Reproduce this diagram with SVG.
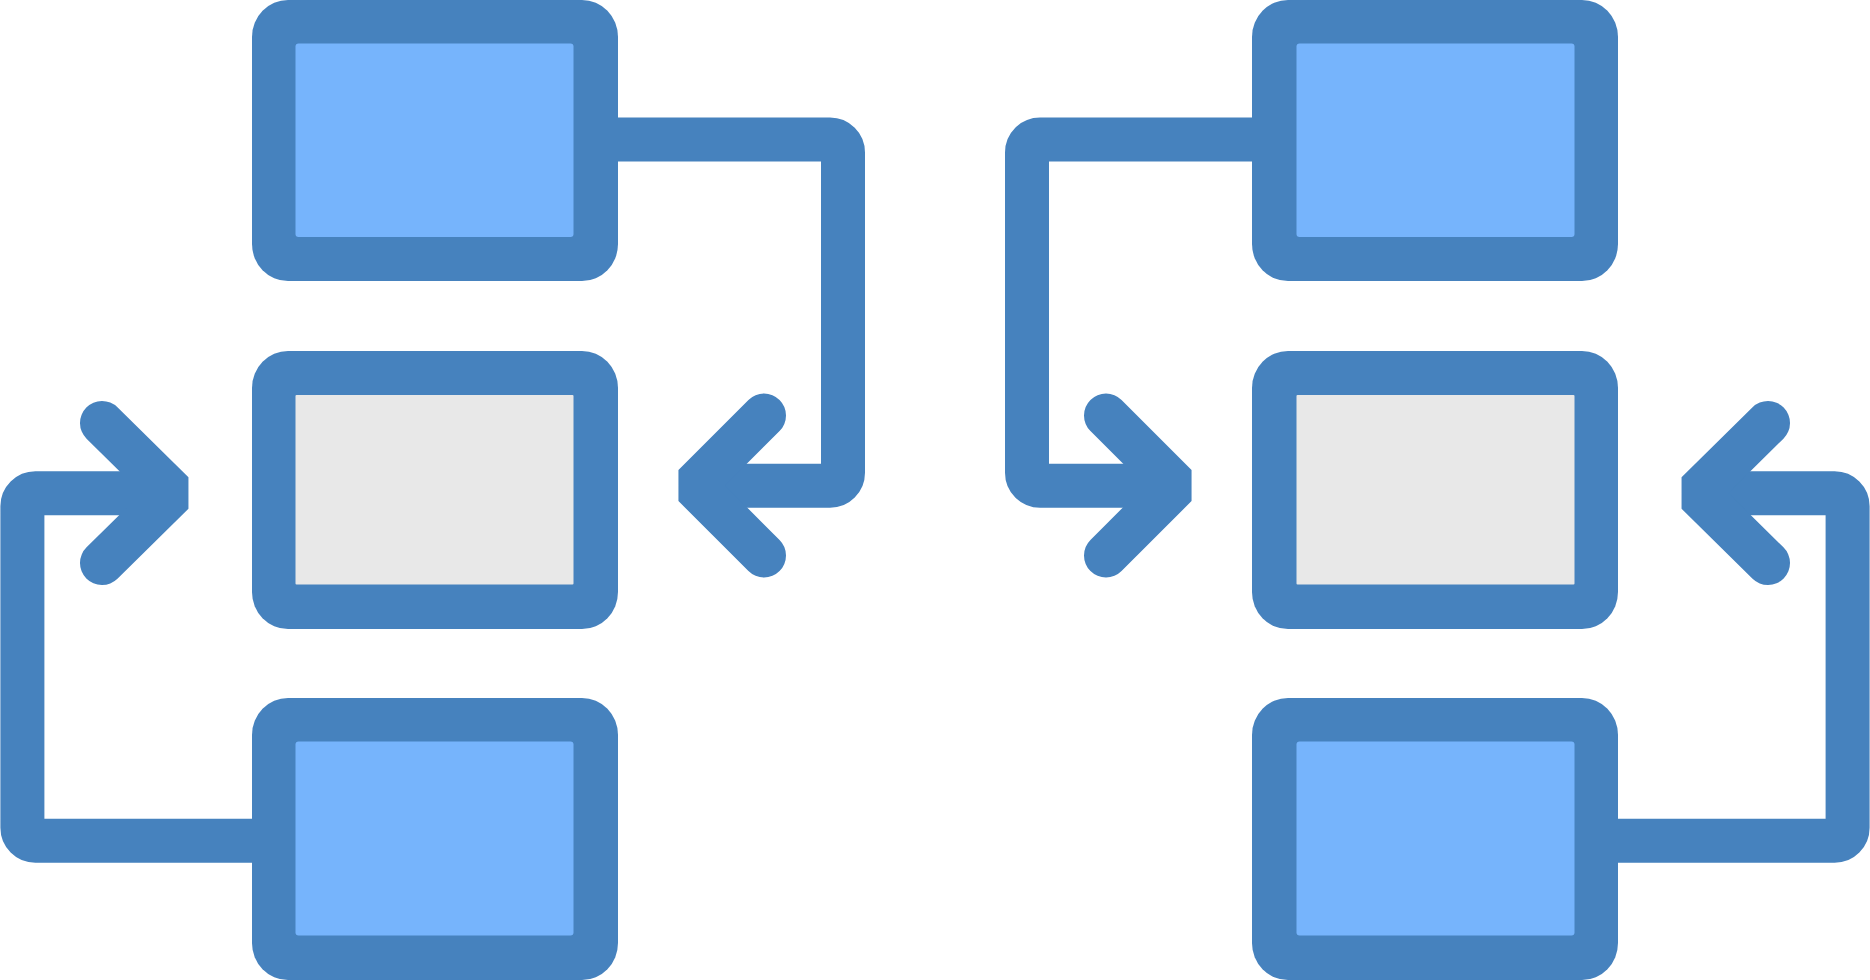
<svg xmlns="http://www.w3.org/2000/svg" width="1870" height="980" viewBox="0 0 1870 980">
  <style>
    .outer { fill: #4682BE; }
    .blue { fill: #76B4FC; }
    .gray { fill: #E8E8E8; }
    .wire { fill: none; stroke: #4682BE; stroke-width: 44; stroke-linejoin: miter; }
    .head { fill: none; stroke: #4682BE; stroke-width: 44; stroke-linecap: round; stroke-linejoin: bevel; }
  </style>
  <rect width="1870" height="980" fill="#FFFFFF"/>
  <g id="connectors">
    <path class="wire" d="M 600 139.4 H 830 A 13 13 0 0 1 843 152.4 V 472.8 A 13 13 0 0 1 830 485.8 H 694"/>
    <path class="head" d="M 764 415.5 L 694 485.5 L 764 555.5"/>
    <path class="wire" d="M 270 840.8 H 35.4 A 13 13 0 0 1 22.4 827.8 V 506.3 A 13 13 0 0 1 35.4 493.3 H 173"/>
    <path class="head" d="M 102 423 L 173 493 L 102 563"/>
    <path class="wire" d="M 1270 139.4 H 1040 A 13 13 0 0 0 1027 152.4 V 472.8 A 13 13 0 0 0 1040 485.8 H 1176"/>
    <path class="head" d="M 1106 415.5 L 1176 485.5 L 1106 555.5"/>
    <path class="wire" d="M 1600 840.8 H 1834.6 A 13 13 0 0 0 1847.6 827.8 V 506.3 A 13 13 0 0 0 1834.6 493.3 H 1697"/>
    <path class="head" d="M 1768 423 L 1697 493 L 1768 563"/>
  </g>
  <g id="node-left-top">
    <rect class="outer" x="252" y="0" width="366" height="281" rx="36" ry="37"/>
    <rect class="blue" x="295.5" y="43.5" width="278" height="193.5" rx="3"/>
  </g>
  <g id="node-left-middle">
    <rect class="outer" x="252" y="351" width="366" height="278" rx="36" ry="37"/>
    <rect class="gray" x="295.5" y="395" width="278" height="189.5" rx="1"/>
  </g>
  <g id="node-left-bottom">
    <rect class="outer" x="252" y="698" width="366" height="282" rx="36" ry="37"/>
    <rect class="blue" x="295.5" y="741.5" width="278" height="194" rx="3"/>
  </g>
  <g id="node-right-top">
    <rect class="outer" x="1252" y="0" width="366" height="281" rx="36" ry="37"/>
    <rect class="blue" x="1296.5" y="43.5" width="278" height="193.5" rx="3"/>
  </g>
  <g id="node-right-middle">
    <rect class="outer" x="1252" y="351" width="366" height="278" rx="36" ry="37"/>
    <rect class="gray" x="1296.5" y="395" width="278" height="189.5" rx="1"/>
  </g>
  <g id="node-right-bottom">
    <rect class="outer" x="1252" y="698" width="366" height="282" rx="36" ry="37"/>
    <rect class="blue" x="1296.5" y="741.5" width="278" height="194" rx="3"/>
  </g>
</svg>
